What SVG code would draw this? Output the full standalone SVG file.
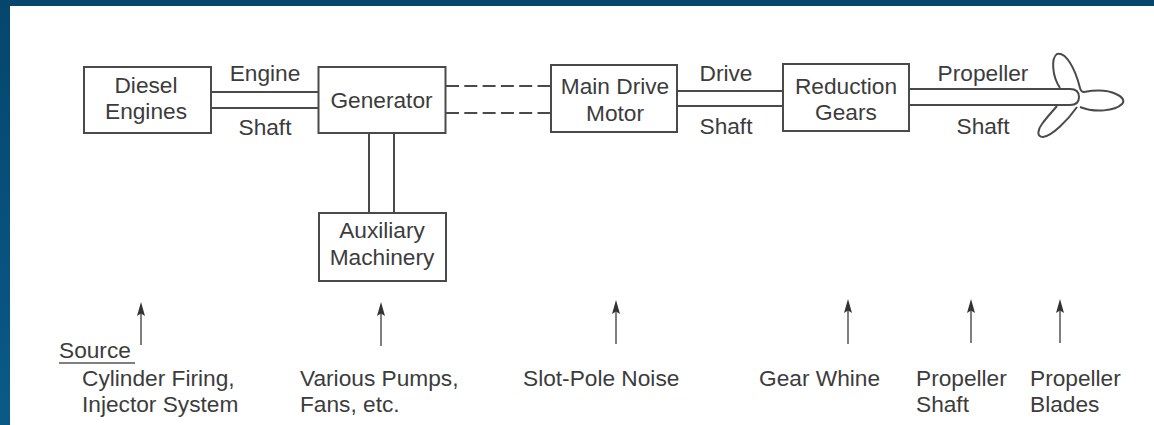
<svg xmlns="http://www.w3.org/2000/svg" width="1154" height="425" viewBox="0 0 1154 425">
<defs>
<linearGradient id="bgv" x1="0" y1="0" x2="0" y2="1"><stop offset="0" stop-color="#04466e"/><stop offset="1" stop-color="#0a5a88"/></linearGradient>
<path id="ah" d="M0 0L4 14L0 11.5L-4 14Z" fill="#333"/>
</defs>
<style>
text{font-family:"Liberation Sans",Arial,sans-serif;font-size:22.7px;fill:#3c3c3c}
.m{text-anchor:middle}
.b{fill:#fff;stroke:#4a4a4a;stroke-width:2}
.l{fill:none;stroke:#4a4a4a;stroke-width:2}
.d{fill:none;stroke:#4a4a4a;stroke-width:2;stroke-dasharray:13 5.3}
.a{fill:none;stroke:#555;stroke-width:1.5}
</style>
<rect width="1154" height="425" fill="#04466e"/>
<rect x="0" y="0" width="10" height="425" fill="url(#bgv)"/>
<rect x="10" y="6" width="1144" height="419" fill="#fff"/>
<g id="connectors">
<path class="l" d="M211 92H319M211 108H319"/>
<path class="d" d="M446 86H551M446 113H551"/>
<path class="l" d="M677 91H783M677 106H783"/>
<path class="l" d="M369 133V213M394 133V213"/>
<path class="l" d="M909 89H1070Q1079 89 1079 97Q1079 105 1070 105H909"/>
<path class="a" d="M141 345V306"/><use href="#ah" x="141" y="302"/>
<path class="a" d="M381 346V306"/><use href="#ah" x="381" y="302"/>
<path class="a" d="M616 344V304"/><use href="#ah" x="616" y="300"/>
<path class="a" d="M848 344V303"/><use href="#ah" x="848" y="299"/>
<path class="a" d="M971 343V303"/><use href="#ah" x="971" y="299"/>
<path class="a" d="M1060 343V303"/><use href="#ah" x="1060" y="299"/>
<path class="a" d="M59 363H135"/>
</g>
<g id="propeller">
<path class="l" d="M1060 88C1052 76 1051 58 1057 54C1066 52 1075 68 1080 88Q1081 92 1084 92C1095 90 1108 90 1116 94C1123 97 1125 101 1122 104C1115 111 1095 113 1080 107M1077 107C1068 120 1052 136 1043 137C1036 137 1038 129 1042 124C1047 117 1052 112 1057 106"/>
</g>
<g id="diesel"><rect class="b" x="84" y="67" width="127" height="66"/><text class="m" x="146" y="93">Diesel</text><text class="m" x="146" y="119">Engines</text></g>
<g id="generator"><rect class="b" x="318.500" y="67" width="127" height="66"/><text class="m" x="381.500" y="108">Generator</text></g>
<g id="motor"><rect class="b" x="551" y="65" width="126" height="67"/><text class="m" x="615" y="94">Main Drive</text><text class="m" x="615" y="121">Motor</text></g>
<g id="gears"><rect class="b" x="783" y="64" width="126" height="67"/><text class="m" x="846" y="94">Reduction</text><text class="m" x="846" y="120">Gears</text></g>
<g id="aux"><rect class="b" x="319" y="213" width="127" height="68"/><text class="m" x="382" y="238">Auxiliary</text><text class="m" x="382" y="265">Machinery</text></g>
<g id="labels">
<text class="m" x="265" y="81">Engine</text><text class="m" x="265" y="135">Shaft</text>
<text class="m" x="726" y="81">Drive</text><text class="m" x="726" y="134">Shaft</text>
<text class="m" x="983" y="81">Propeller</text><text class="m" x="983" y="134">Shaft</text>
<text x="59" y="358">Source</text>
<text x="82" y="386">Cylinder Firing,</text><text x="82" y="412">Injector System</text>
<text x="300" y="386">Various Pumps,</text><text x="300" y="412">Fans, etc.</text>
<text x="523" y="386">Slot-Pole Noise</text>
<text x="759" y="386">Gear Whine</text>
<text x="916" y="386">Propeller</text><text x="916" y="412">Shaft</text>
<text x="1030" y="386">Propeller</text><text x="1030" y="412">Blades</text>
</g>
</svg>
